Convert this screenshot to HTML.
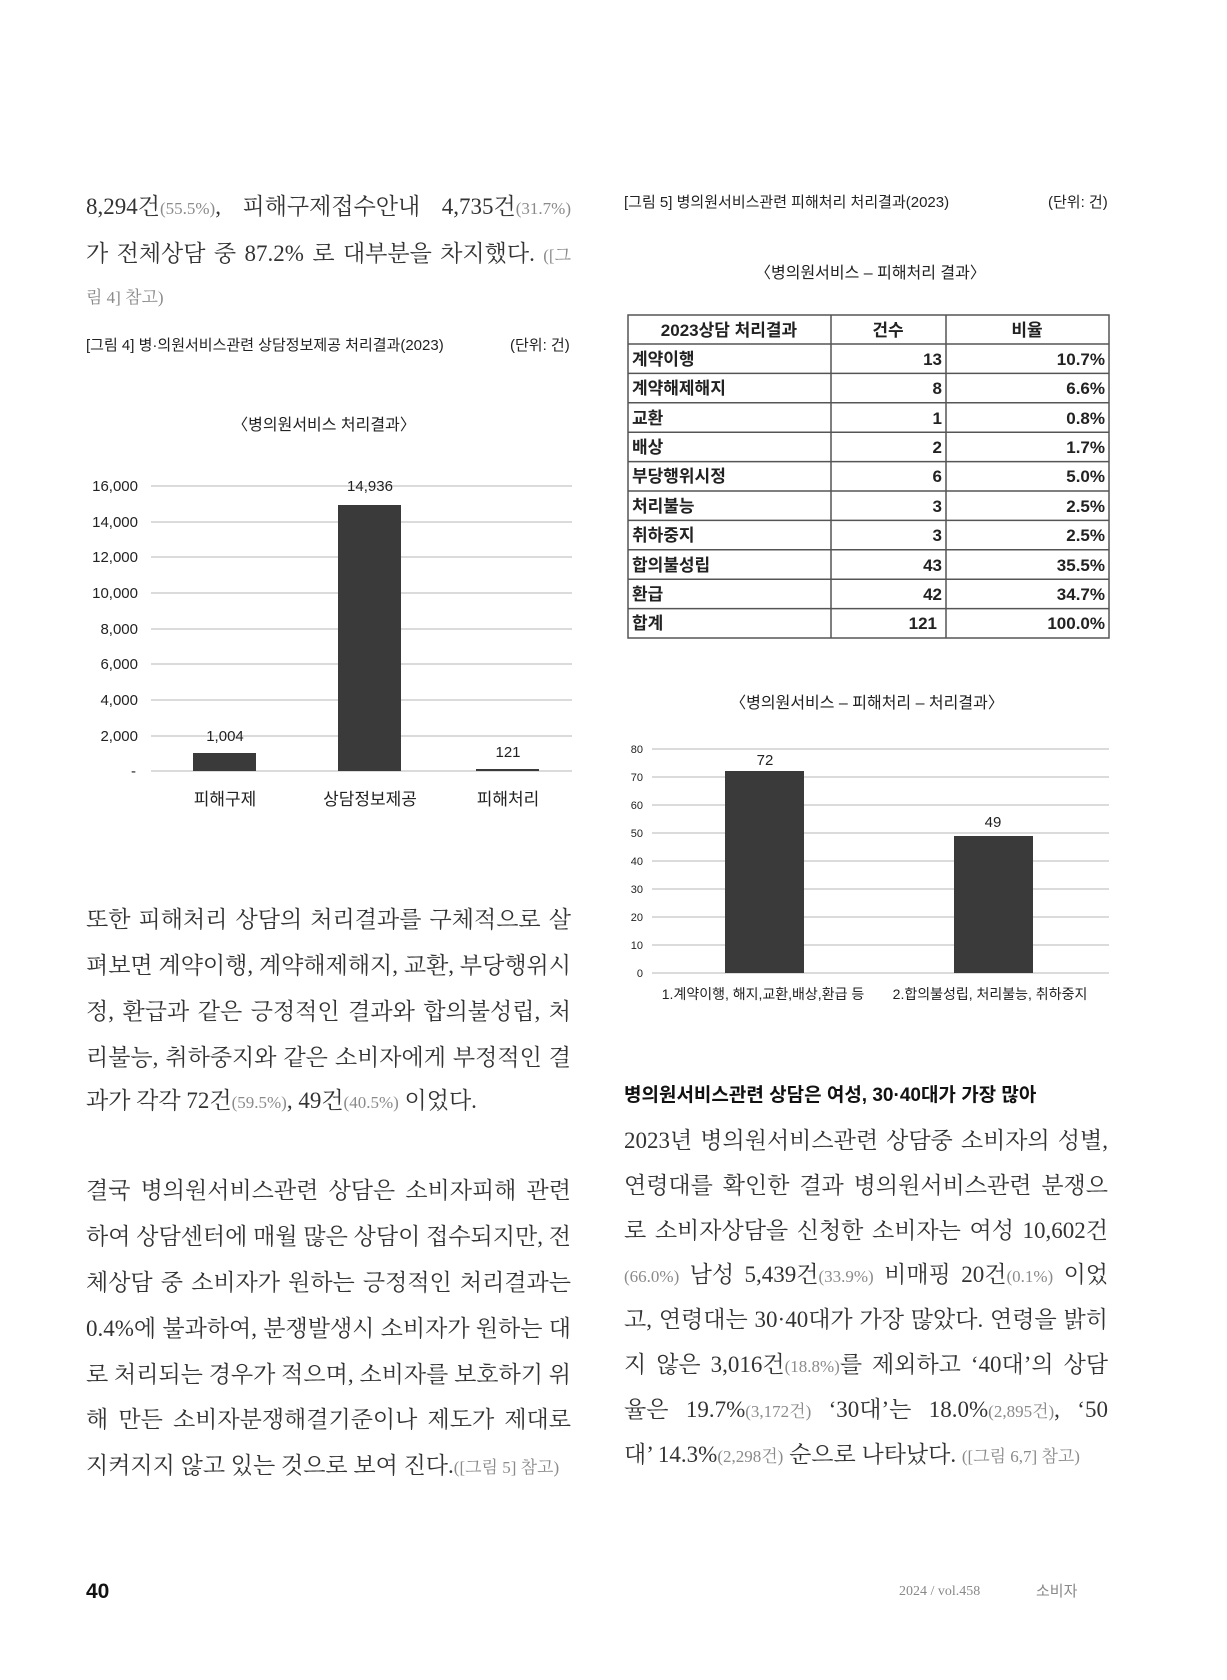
<!DOCTYPE html>
<html><head><meta charset="utf-8"><style>
body{margin:0;background:#fff;}
#p{position:relative;width:1227px;height:1680px;overflow:hidden;background:#fff;}
.l{position:absolute;font-family:"Liberation Serif","Noto Serif CJK SC",serif;font-size:23px;color:#333;white-space:nowrap;line-height:30px;}
.j{text-align:justify;text-align-last:justify;white-space:normal;}
.g{color:#8a8a8a;font-size:17px;}
.c{position:absolute;font-family:"Liberation Sans","Noto Sans CJK KR",sans-serif;font-size:15px;color:#222;white-space:nowrap;line-height:20px;}
svg text{font-family:"Liberation Sans","Noto Sans CJK KR",sans-serif;fill:#222;}
</style></head><body><div id="p">
<div class="l j" style="left:86px;top:192px;width:485px">8,294건<span class="g">(55.5%)</span>, 피해구제접수안내 4,735건<span class="g">(31.7%)</span></div>
<div class="l j" style="left:86px;top:239px;width:485px">가 전체상담 중 87.2% 로 대부분을 차지했다. <span class="g">([그</span></div>
<div class="l" style="left:86px;top:281px"><span class="g">림 4] 참고)</span></div>
<div class="c" style="left:86px;top:336px">[그림 4] 병·의원서비스관련 상담정보제공 처리결과(2023)</div>
<div class="c" style="left:510px;top:336px">(단위: 건)</div>

<div class="c" style="left:624px;top:193px">[그림 5] 병의원서비스관련 피해처리 처리결과(2023)</div>
<div class="c" style="left:1048px;top:193px">(단위: 건)</div>
<div class="c" style="left:755px;top:264px;font-size:16px">〈병의원서비스 – 피해처리 결과〉</div>

<svg style="position:absolute;left:0;top:0" width="1227" height="1100">
<text x="324" y="430" font-size="16" text-anchor="middle">〈병의원서비스 처리결과〉</text>
<g stroke="#cfcfcf" stroke-width="1.5">
<line x1="151" x2="572" y1="486" y2="486"/><line x1="151" x2="572" y1="522" y2="522"/><line x1="151" x2="572" y1="557" y2="557"/><line x1="151" x2="572" y1="593" y2="593"/><line x1="151" x2="572" y1="629" y2="629"/><line x1="151" x2="572" y1="664" y2="664"/><line x1="151" x2="572" y1="700" y2="700"/><line x1="151" x2="572" y1="736" y2="736"/><line x1="151" x2="572" y1="771" y2="771"/>
</g>
<g font-size="15" text-anchor="end">
<text x="138" y="491">16,000</text><text x="138" y="527">14,000</text><text x="138" y="562">12,000</text><text x="138" y="598">10,000</text><text x="138" y="634">8,000</text><text x="138" y="669">6,000</text><text x="138" y="705">4,000</text><text x="138" y="741">2,000</text><text x="136" y="776">-</text>
</g>
<rect x="193" y="753" width="63" height="18" fill="#3a3a3a"/>
<rect x="338" y="505" width="63" height="266" fill="#3a3a3a"/>
<rect x="476" y="769" width="63" height="2" fill="#3a3a3a"/>
<g font-size="15" text-anchor="middle">
<text x="225" y="741">1,004</text><text x="370" y="491">14,936</text><text x="508" y="757">121</text>
</g>
<g font-size="17" text-anchor="middle">
<text x="225" y="805">피해구제</text><text x="370" y="805">상담정보제공</text><text x="508" y="805">피해처리</text>
</g>

<g stroke="#555" stroke-width="1.5" fill="none">
<rect x="628" y="315" width="481" height="323"/>
<line x1="831" x2="831" y1="315" y2="638"/><line x1="946" x2="946" y1="315" y2="638"/>
<line x1="628" x2="1109" y1="344" y2="344"/><line x1="628" x2="1109" y1="373.4" y2="373.4"/><line x1="628" x2="1109" y1="402.8" y2="402.8"/><line x1="628" x2="1109" y1="432.2" y2="432.2"/><line x1="628" x2="1109" y1="461.6" y2="461.6"/><line x1="628" x2="1109" y1="491" y2="491"/><line x1="628" x2="1109" y1="520.4" y2="520.4"/><line x1="628" x2="1109" y1="549.8" y2="549.8"/><line x1="628" x2="1109" y1="579.2" y2="579.2"/><line x1="628" x2="1109" y1="608.6" y2="608.6"/>
</g>
<g font-size="17" font-weight="bold" fill="#111">
<text x="729" y="336" text-anchor="middle">2023상담 처리결과</text><text x="888" y="336" text-anchor="middle">건수</text><text x="1027" y="336" text-anchor="middle">비율</text>
<text x="632" y="365">계약이행</text><text x="632" y="394">계약해제해지</text><text x="632" y="424">교환</text><text x="632" y="453">배상</text><text x="632" y="482">부당행위시정</text><text x="632" y="512">처리불능</text><text x="632" y="541">취하중지</text><text x="632" y="571">합의불성립</text><text x="632" y="600">환급</text><text x="632" y="629">합계</text>
</g>
<g font-size="17" font-weight="bold" text-anchor="end">
<text x="942" y="365">13</text><text x="942" y="394">8</text><text x="942" y="424">1</text><text x="942" y="453">2</text><text x="942" y="482">6</text><text x="942" y="512">3</text><text x="942" y="541">3</text><text x="942" y="571">43</text><text x="942" y="600">42</text><text x="937" y="629">121</text>
<text x="1105" y="365">10.7%</text><text x="1105" y="394">6.6%</text><text x="1105" y="424">0.8%</text><text x="1105" y="453">1.7%</text><text x="1105" y="482">5.0%</text><text x="1105" y="512">2.5%</text><text x="1105" y="541">2.5%</text><text x="1105" y="571">35.5%</text><text x="1105" y="600">34.7%</text><text x="1105" y="629">100.0%</text>
</g>

<text x="867" y="708" font-size="16" text-anchor="middle">〈병의원서비스 – 피해처리 – 처리결과〉</text>
<g stroke="#cfcfcf" stroke-width="1.5">
<line x1="652" x2="1109" y1="749" y2="749"/><line x1="652" x2="1109" y1="777" y2="777"/><line x1="652" x2="1109" y1="805" y2="805"/><line x1="652" x2="1109" y1="833" y2="833"/><line x1="652" x2="1109" y1="861" y2="861"/><line x1="652" x2="1109" y1="889" y2="889"/><line x1="652" x2="1109" y1="917" y2="917"/><line x1="652" x2="1109" y1="945" y2="945"/><line x1="652" x2="1109" y1="973" y2="973"/>
</g>
<g font-size="11" text-anchor="end">
<text x="643" y="753">80</text><text x="643" y="781">70</text><text x="643" y="809">60</text><text x="643" y="837">50</text><text x="643" y="865">40</text><text x="643" y="893">30</text><text x="643" y="921">20</text><text x="643" y="949">10</text><text x="643" y="977">0</text>
</g>
<rect x="725" y="771" width="79" height="202" fill="#3a3a3a"/>
<rect x="954" y="836" width="79" height="137" fill="#3a3a3a"/>
<text x="765" y="765" font-size="15" text-anchor="middle">72</text>
<text x="993" y="827" font-size="15" text-anchor="middle">49</text>
<text x="763" y="999" font-size="14" text-anchor="middle">1.계약이행, 해지,교환,배상,환급 등</text>
<text x="990" y="999" font-size="14" text-anchor="middle">2.합의불성립, 처리불능, 취하중지</text>
</svg>

<div class="l j" style="left:86px;top:905px;width:485px">또한 피해처리 상담의 처리결과를 구체적으로 살</div>
<div class="l j" style="left:86px;top:951px;width:485px">펴보면 계약이행, 계약해제해지, 교환, 부당행위시</div>
<div class="l j" style="left:86px;top:997px;width:485px">정, 환급과 같은 긍정적인 결과와 합의불성립, 처</div>
<div class="l j" style="left:86px;top:1043px;width:485px">리불능, 취하중지와 같은 소비자에게 부정적인 결</div>
<div class="l" style="left:86px;top:1086px">과가 각각 72건<span class="g">(59.5%)</span>, 49건<span class="g">(40.5%)</span> 이었다.</div>

<div class="l j" style="left:86px;top:1176px;width:485px">결국 병의원서비스관련 상담은 소비자피해 관련</div>
<div class="l j" style="left:86px;top:1222px;width:485px">하여 상담센터에 매월 많은 상담이 접수되지만, 전</div>
<div class="l j" style="left:86px;top:1268px;width:485px">체상담 중 소비자가 원하는 긍정적인 처리결과는</div>
<div class="l j" style="left:86px;top:1314px;width:485px">0.4%에 불과하여, 분쟁발생시 소비자가 원하는 대</div>
<div class="l j" style="left:86px;top:1360px;width:485px">로 처리되는 경우가 적으며, 소비자를 보호하기 위</div>
<div class="l j" style="left:86px;top:1405px;width:485px">해 만든 소비자분쟁해결기준이나 제도가 제대로</div>
<div class="l" style="left:86px;top:1451px">지켜지지 않고 있는 것으로 보여 진다.<span class="g">([그림 5] 참고)</span></div>

<div class="c" style="left:624px;top:1086px;font-size:19px;font-weight:bold;color:#111">병의원서비스관련 상담은 여성, 30·40대가 가장 많아</div>
<div class="l j" style="left:624px;top:1126px;width:484px">2023년 병의원서비스관련 상담중 소비자의 성별,</div>
<div class="l j" style="left:624px;top:1171px;width:484px">연령대를 확인한 결과 병의원서비스관련 분쟁으</div>
<div class="l j" style="left:624px;top:1216px;width:484px">로 소비자상담을 신청한 소비자는 여성 10,602건</div>
<div class="l j" style="left:624px;top:1260px;width:484px"><span class="g">(66.0%)</span> 남성 5,439건<span class="g">(33.9%)</span> 비매핑 20건<span class="g">(0.1%)</span> 이었</div>
<div class="l j" style="left:624px;top:1305px;width:484px">고, 연령대는 30·40대가 가장 많았다. 연령을 밝히</div>
<div class="l j" style="left:624px;top:1350px;width:484px">지 않은 3,016건<span class="g">(18.8%)</span>를 제외하고 ‘40대’의 상담</div>
<div class="l j" style="left:624px;top:1395px;width:484px">율은 19.7%<span class="g">(3,172건)</span> ‘30대’는 18.0%<span class="g">(2,895건)</span>, ‘50</div>
<div class="l" style="left:624px;top:1440px">대’ 14.3%<span class="g">(2,298건)</span> 순으로 나타났다. <span class="g">([그림 6,7] 참고)</span></div>

<div class="c" style="left:86px;top:1580px;font-size:21px;font-weight:bold;color:#111;line-height:24px">40</div>
<div class="l" style="left:899px;top:1577px;font-size:14px;color:#888">2024 / vol.458</div>
<div class="c" style="left:1036px;top:1582px;font-size:15px;color:#888">소비자</div>
</div></body></html>
